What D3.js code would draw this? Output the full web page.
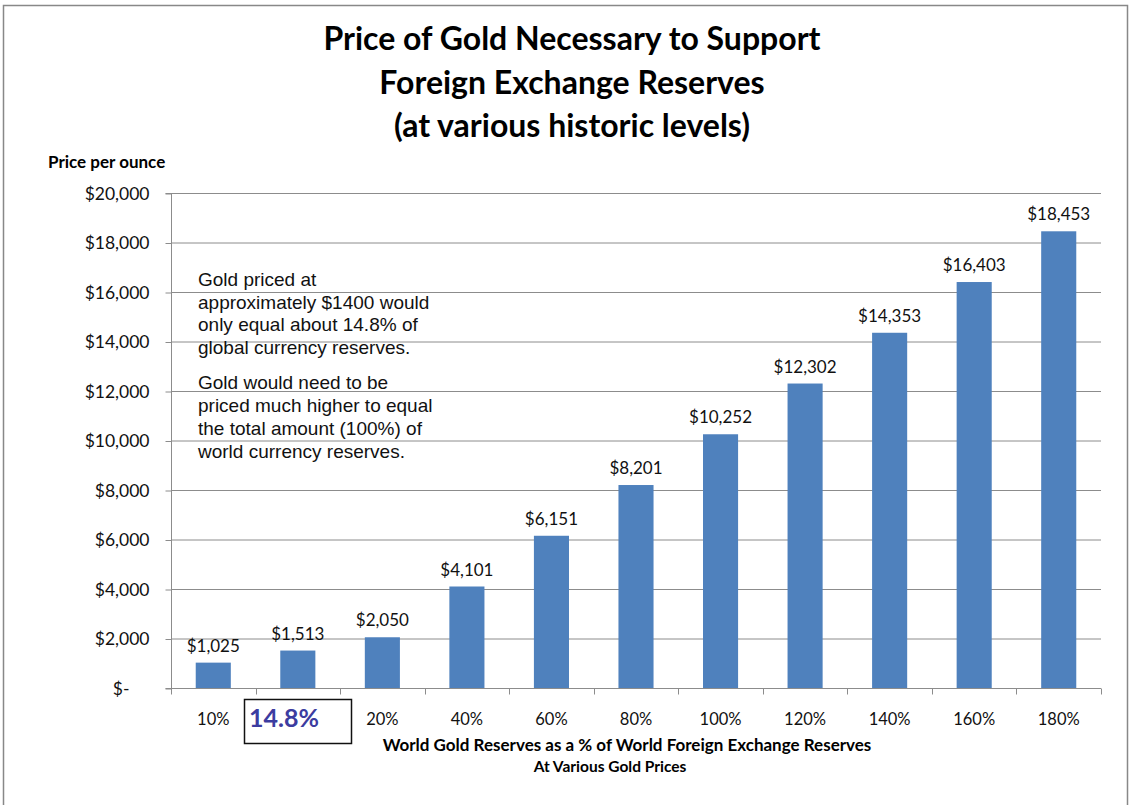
<!DOCTYPE html>
<html><head><meta charset="utf-8">
<script src="https://cdn.jsdelivr.net/npm/d3@7"></script>
<style>body{margin:0;background:#fff}svg{display:block}</style>
</head><body>
<svg id="c" width="1131" height="805"></svg>
<script>
const categories = ["10%","14.8%","20%","40%","60%","80%","100%","120%","140%","160%","180%"];
const values = [1025,1513,2050,4101,6151,8201,10252,12302,14353,16403,18453];
const yTicks = [0,2000,4000,6000,8000,10000,12000,14000,16000,18000,20000];
const titleLines = ["Price of Gold Necessary to Support","Foreign Exchange Reserves","(at various historic levels)"];
const noteLines1 = ["Gold priced at","approximately $1400 would","only equal about 14.8% of","global currency reserves."];
const noteLines2 = ["Gold would need to be","priced much higher to equal","the total amount (100%) of","world currency reserves."];

const svg = d3.select("#c");
const F = "Lato, 'Open Sans', sans-serif";
const L = 171, R = 1101, T = 193, B = 688;
// chart border
svg.append("path").attr("d","M3.5,805 L3.5,5.5 L1127.5,5.5 L1127.5,805").attr("fill","none").attr("stroke","#888").attr("stroke-width",1.5);

const x = d3.scaleBand().domain(categories).range([L,R]).paddingInner(0.585).paddingOuter(0.2925);
const xb = d3.scaleBand().domain(categories).range([L,R]);
const y = d3.scaleLinear().domain([0,20000]).range([B,T]);

// gridlines
svg.append("g").selectAll("line").data(yTicks.filter(d=>d>0)).join("line")
  .attr("x1",L).attr("x2",R).attr("y1",d=>y(d)+0.5).attr("y2",d=>y(d)+0.5)
  .attr("stroke","#8c8c8c").attr("stroke-width",1);

// y axis
const yAxis = d3.axisLeft(y).tickValues(yTicks).tickSize(6).tickPadding(16)
  .tickFormat(d=> d===0 ? "$-" : "$" + d3.format(",")(d));
const gy = svg.append("g").attr("transform",`translate(${L+0.5},0.5)`).call(yAxis);
gy.select(".domain").attr("stroke","#8c8c8c").attr("d",`M-6,${T}H0V${B}H-6`);
gy.selectAll(".tick line").attr("stroke","#8c8c8c");
gy.selectAll(".tick text").attr("font-family",F).attr("font-size",17.5).attr("fill","#111");
gy.selectAll(".tick").filter(d=>d===0).select("text").attr("dx",-20);

// x axis
const gx = svg.append("g").attr("transform",`translate(0,${B+0.5})`);
gx.append("line").attr("x1",L).attr("x2",R).attr("stroke","#8c8c8c");
gx.selectAll("line.t").data(categories.concat(["end"])).join("line").attr("class","t")
  .attr("x1",(d,i)=>Math.round(L + i*xb.step())+0.5).attr("x2",(d,i)=>Math.round(L + i*xb.step())+0.5)
  .attr("y1",0).attr("y2",6).attr("stroke","#8c8c8c");
gx.selectAll("text").data(categories.filter(c=>c!=="14.8%")).join("text")
  .attr("x",d=>xb(d)+xb.bandwidth()/2).attr("y",36).attr("text-anchor","middle")
  .attr("font-family",F).attr("font-size",16.5).attr("fill","#111").text(d=>d);

// highlighted 14.8% box
svg.append("rect").attr("x",244.5).attr("y",699.5).attr("width",107).attr("height",44)
  .attr("fill","none").attr("stroke","#111").attr("stroke-width",1.5);
svg.append("text").attr("x",249).attr("y",727).attr("font-family",F).attr("font-weight","bold")
  .attr("font-size",25).attr("fill","#3c3ca0").text("14.8%");

// bars
svg.append("g").selectAll("rect").data(values).join("rect")
  .attr("x",(d,i)=>x(categories[i])).attr("width",x.bandwidth())
  .attr("y",d=>y(d)).attr("height",d=>B-y(d)).attr("fill","#4f81bd");

// data labels
svg.append("g").selectAll("text").data(values).join("text")
  .attr("x",(d,i)=>x(categories[i])+x.bandwidth()/2).attr("y",d=>y(d)-11)
  .attr("text-anchor","middle").attr("font-family",F).attr("font-size",17).attr("fill","#111")
  .text(d=>"$"+d3.format(",")(d));

// title
svg.append("g").selectAll("text").data(titleLines).join("text")
  .attr("x",572).attr("y",(d,i)=>50+i*43.5).attr("text-anchor","middle")
  .attr("font-family",F).attr("font-weight","bold").attr("font-size",32).attr("fill","#000").text(d=>d);

// y axis title
svg.append("text").attr("x",48).attr("y",168).attr("font-family",F).attr("font-weight","bold")
  .attr("font-size",17).attr("fill","#000").text("Price per ounce");

// x axis titles
svg.append("text").attr("x",627).attr("y",751).attr("text-anchor","middle").attr("font-family",F)
  .attr("font-weight","bold").attr("font-size",17).attr("fill","#000")
  .text("World Gold Reserves as a % of World Foreign Exchange Reserves");
svg.append("text").attr("x",610).attr("y",772).attr("text-anchor","middle").attr("font-family",F)
  .attr("font-weight","bold").attr("font-size",15.5).attr("fill","#000").text("At Various Gold Prices");

// annotation
const ann = svg.append("g").attr("font-family","'Liberation Sans', Arial, sans-serif").attr("font-size",19).attr("fill","#111");
ann.selectAll("text.a").data(noteLines1).join("text").attr("class","a").attr("x",198).attr("y",(d,i)=>286+i*22.5).text(d=>d);
ann.selectAll("text.b").data(noteLines2).join("text").attr("class","b").attr("x",198).attr("y",(d,i)=>389+i*23).text(d=>d);
</script>
</body></html>
